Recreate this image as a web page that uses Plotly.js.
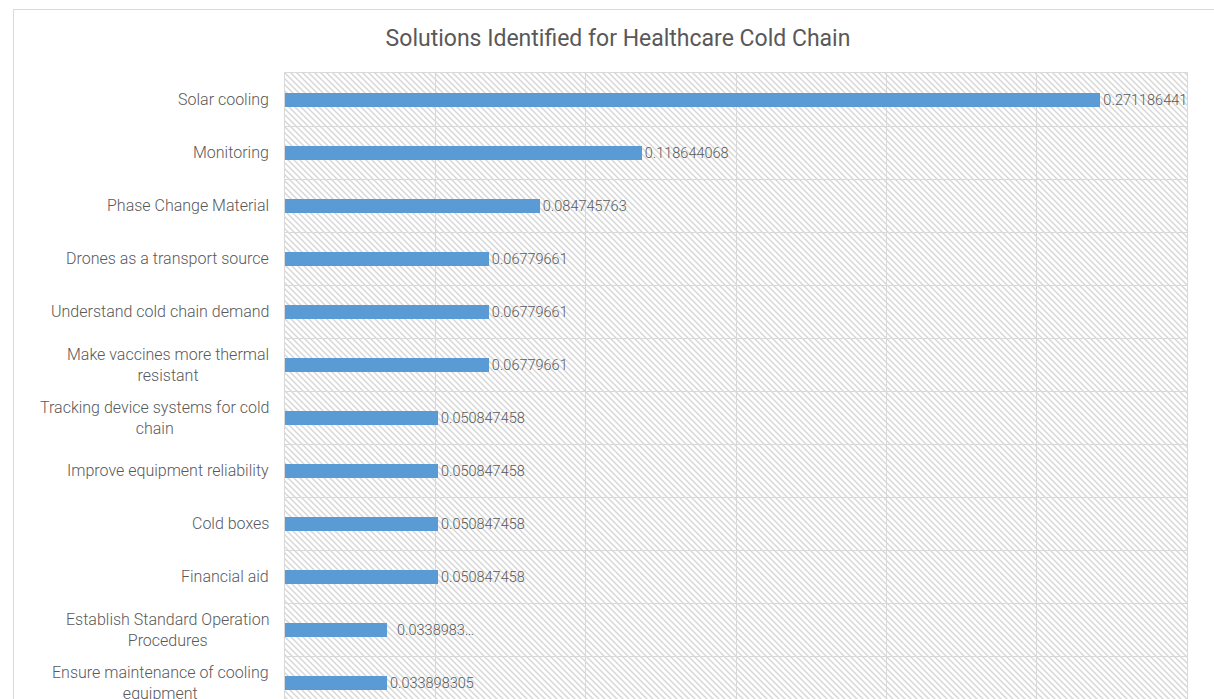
<!DOCTYPE html>
<html>
<head>
<meta charset="utf-8">
<script src="https://cdn.plot.ly/plotly-3.0.1.min.js"></script>
<style>
  html, body { margin: 0; padding: 0; background: #ffffff; overflow: hidden; }
  #wrap { position: relative; width: 1214px; height: 699px; }
  #chart { position: absolute; left: 0; top: 0; width: 1214px; height: 699px; }
  #frame { position: absolute; left: 13px; top: 9px; width: 1220px; height: 720px;
           border: 1px solid #d9d9d9; pointer-events: none; box-sizing: border-box; }
</style>
</head>
<body>
<div id="wrap">
  <div id="chart"></div>
  <div id="frame"></div>
</div>
<script>
// ---- data ----
var categories = [
  "Solar cooling",
  "Monitoring",
  "Phase Change Material",
  "Drones as a transport source",
  "Understand cold chain demand",
  "Make vaccines more thermal<br>resistant",
  "Tracking device systems for cold<br>chain",
  "Improve equipment reliability",
  "Cold boxes",
  "Financial aid",
  "Establish Standard Operation<br>Procedures",
  "Ensure maintenance of cooling<br>equipment"
];
var values = [
  0.271186441, 0.118644068, 0.084745763, 0.06779661, 0.06779661, 0.06779661,
  0.050847458, 0.050847458, 0.050847458, 0.050847458, 0.033898305, 0.033898305
];
var valueLabels = [
  "0.271186441", "0.118644068", "0.084745763", "0.06779661", "0.06779661", "0.06779661",
  "0.050847458", "0.050847458", "0.050847458", "0.050847458", "  0.0338983…", "0.033898305"
];
var chartTitle = "Solutions Identified for Healthcare Cold Chain";
var xMax = 0.3;
var xStep = 0.05;

// ---- layout geometry ----
var W = 1214, H = 699;
var mL = 285, mR = 27, mT = 73, mB = 0;
var plotW = W - mL - mR, plotH = H - mT - mB;
var rowPx = 53;
var visibleRows = plotH / rowPx;

var idx = categories.map(function (c, i) { return i; });

// hatch background (downward diagonal) as an svg image
var svg = '<svg xmlns="http://www.w3.org/2000/svg" width="' + plotW + '" height="' + plotH + '">' +
  '<defs><pattern id="p" width="6" height="6" patternUnits="userSpaceOnUse">' +
  '<rect width="6" height="6" fill="#ffffff"/>' +
  '<path d="M-1,-1 L7,7 M-1,5 L1,7 M5,-1 L7,1" stroke="#d6d6d6" stroke-width="1.4"/>' +
  '</pattern></defs><rect width="100%" height="100%" fill="url(#p)"/></svg>';
var hatchSrc = "data:image/svg+xml;charset=utf-8," + encodeURIComponent(svg);

var trace = {
  type: "bar",
  orientation: "h",
  x: values,
  y: idx,
  text: valueLabels,
  textposition: "outside",
  constraintext: "none",
  cliponaxis: false,
  textfont: { family: "Roboto, sans-serif", size: 14.5, color: "#595959", weight: 300 },
  marker: { color: "#5b9bd5", line: { width: 0 } },
  width: 0.265,
  offset: -0.115,
  hoverinfo: "skip"
};

var labelAnnotations = categories.map(function (c, i) {
  return {
    text: c,
    x: 0, xref: "paper", xanchor: "right", xshift: -14,
    y: i, yref: "y", yanchor: "middle",
    showarrow: false, align: "center",
    font: { family: "Roboto, sans-serif", size: 16, color: "#595959", weight: 300 }
  };
});

var layout = {
  width: W, height: H,
  margin: { l: mL, r: mR, t: mT, b: mB, pad: 0 },
  paper_bgcolor: "#ffffff",
  plot_bgcolor: "rgba(0,0,0,0)",
  showlegend: false,
  title: {
    text: chartTitle,
    x: 618 / W, xanchor: "center", xref: "container",
    y: 1 - 38 / H, yanchor: "middle", yref: "container",
    font: { family: "Roboto, sans-serif", size: 23, color: "#595959" }
  },
  xaxis: {
    range: [0, xMax],
    dtick: xStep,
    tick0: 0,
    showgrid: true,
    gridcolor: "#d9d9d9",
    gridwidth: 1,
    zeroline: false,
    showline: true, mirror: true, linecolor: "#d9d9d9", linewidth: 1,
    showticklabels: false,
    ticks: "",
    fixedrange: true
  },
  yaxis: {
    type: "linear",
    range: [-0.5 + visibleRows, -0.5],
    tick0: -0.5, dtick: 1,
    showgrid: true, gridcolor: "#d9d9d9", gridwidth: 1,
    zeroline: false,
    showline: true, mirror: true, linecolor: "#d9d9d9", linewidth: 1,
    showticklabels: false,
    ticks: "",
    fixedrange: true
  },
  images: [{
    source: hatchSrc,
    xref: "paper", yref: "paper",
    x: 0, y: 1, sizex: 1, sizey: 1,
    xanchor: "left", yanchor: "top",
    sizing: "stretch", layer: "below"
  }],
  annotations: labelAnnotations,
  bargap: 0
};

Plotly.newPlot("chart", [trace], layout, { displayModeBar: false, staticPlot: true });
</script>
</body>
</html>
